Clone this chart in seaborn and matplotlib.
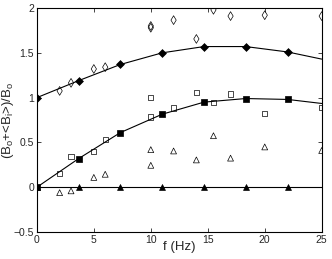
import matplotlib
matplotlib.use("Agg")
import matplotlib.pyplot as plt
import seaborn as sns
import numpy as np

sns.set_style("ticks")
plt.rcParams['font.family'] = ['Liberation Sans', 'DejaVu Sans']
plt.rcParams['mathtext.fontset'] = 'custom'
plt.rcParams['mathtext.rm'] = 'Liberation Sans'
plt.rcParams['mathtext.it'] = 'Liberation Sans'

# Filled (model) points
f_model = [0, 3.67, 7.33, 11.0, 14.67, 18.33, 22.0]
diam_model = [1.00, 1.19, 1.37, 1.50, 1.57, 1.57, 1.51]
sq_model = [0.00, 0.32, 0.61, 0.815, 0.95, 0.99, 0.98]
tri_model = [0, 0, 0, 0, 0, 0, 0]

# Curves through the model points
f_curve = [0, 3.67, 7.33, 11.0, 14.67, 18.33, 22.0, 25.0]
diam_curve = [1.00, 1.19, 1.37, 1.50, 1.57, 1.57, 1.51, 1.43]
sq_curve = [0.00, 0.32, 0.61, 0.815, 0.95, 0.99, 0.98, 0.935]
tri_curve = [0, 0, 0, 0, 0, 0, 0, 0]

# Open (measured) points
f_meas = [2, 3, 5, 6, 10, 10, 12, 14, 15.5, 17, 20, 25]
diam_meas = [1.075, 1.165, 1.32, 1.34, 1.80, 1.78, 1.865, 1.655, 1.98, 1.91, 1.92, 1.91]
sq_meas = [0.155, 0.345, 0.395, 0.535, 1.00, 0.785, 0.885, 1.06, 0.945, 1.04, 0.825, 0.89]
tri_meas = [-0.06, -0.04, 0.11, 0.145, 0.42, 0.245, 0.405, 0.305, 0.575, 0.325, 0.45, 0.41]

xticks = [0, 5, 10, 15, 20, 25]
yticks = [-0.5, 0, 0.5, 1, 1.5, 2]
yticklabels = ['\u22120.5', '0', '0.5', '1', '1.5', '2']

fig = plt.figure(figsize=(3.32, 2.59), dpi=100)
ax = fig.add_axes([0.111, 0.104, 0.858, 0.865])

for yc in [diam_curve, sq_curve, tri_curve]:
    sns.lineplot(x=f_curve, y=yc, ax=ax, color='black', linewidth=0.8, sort=False)

for ym, mk, s in [(diam_model, 'D', 16), (sq_model, 's', 14), (tri_model, '^', 18)]:
    sns.scatterplot(x=f_model, y=ym, ax=ax, marker=mk, s=s, color='black',
                    edgecolor='black', linewidth=0.5, zorder=3)

for ym, mk, s in [(diam_meas, 'd', 20), (sq_meas, 's', 14), (tri_meas, '^', 18)]:
    sns.scatterplot(x=f_meas, y=ym, ax=ax, marker=mk, s=s, facecolors='none',
                    edgecolors='black', linewidth=0.5, zorder=3)

ax.set_xlim(0, 25)
ax.set_ylim(-0.5, 2)
ax.set_xticks(xticks)
ax.set_yticks(yticks)
ax.set_yticklabels(yticklabels)
ax.tick_params(direction='in', length=3, width=0.6, labelsize=7.5, top=True, right=True, pad=2)
for sp in ax.spines.values():
    sp.set_visible(True)
    sp.set_linewidth(0.8)
    sp.set_color('black')
ax.set_xlabel('f (Hz)', fontsize=9.5)
ax.set_ylabel(r'(B$_\mathrm{o}$+<B$_\mathrm{i}$>)/B$_\mathrm{o}$', fontsize=9.5)
ax.yaxis.set_label_coords(-0.072, 0.5)
ax.xaxis.set_label_coords(0.5, -0.042)
ax.xaxis.label.set_va('top')

fig.savefig('out.png', dpi=100)
